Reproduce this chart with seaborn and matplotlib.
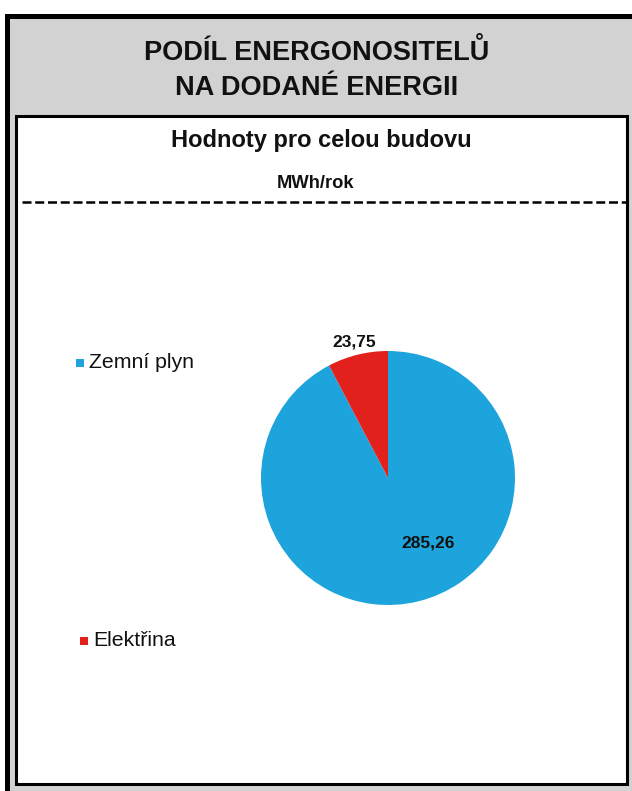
import matplotlib
matplotlib.use("Agg")
import matplotlib.pyplot as plt
from matplotlib.patches import Rectangle
from matplotlib.lines import Line2D
import numpy as np
import seaborn as sns

# data
categories = ["Zemní plyn", "Elektřina"]
values = [285.26, 23.75]
value_labels = ["285,26", "23,75"]
colors = ["#1ea4dc", "#e3211c"]

title_lines = ["PODÍL ENERGONOSITELŮ", "NA DODANÉ ENERGII"]
subtitle = "Hodnoty pro celou budovu"
unit = "MWh/rok"

sns.set_theme(style="white")
plt.rcParams['font.family'] = ['Liberation Sans', 'DejaVu Sans']

W, H = 632, 791
fig = plt.figure(figsize=(W / 100, H / 100), dpi=100)
fig.patch.set_facecolor("white")


def fx(x):
    return x / W


def fy(y):
    return 1 - y / H


def box(x0, y0, x1, y1, z=-2, **kw):
    r = Rectangle((fx(x0), fy(y1)), fx(x1) - fx(x0), fy(y0) - fy(y1),
                  transform=fig.transFigure, zorder=z, **kw)
    fig.add_artist(r)


# outer grey frame and inner white panel
box(7, 16, 640, 800, facecolor="#d2d2d2", edgecolor="black", linewidth=3.6, z=-3)
box(16, 116, 627, 784, facecolor="white", edgecolor="black", linewidth=2.2, z=-2)

# dashed separator
fig.add_artist(Line2D([fx(22), fx(626)], [fy(202), fy(202)], transform=fig.transFigure,
                      color="black", linewidth=1.8, dashes=(3.6, 1.5)))

# titles
fig.text(fx(317), fy(52), title_lines[0], ha="center", va="center",
         fontsize=19.5, fontweight="bold", color="#111111")
fig.text(fx(317), fy(88), title_lines[1], ha="center", va="center",
         fontsize=19.5, fontweight="bold", color="#111111")
fig.text(fx(321), fy(141), subtitle, ha="center", va="center",
         fontsize=17, fontweight="bold", color="#111111")
fig.text(fx(316), fy(184), unit, ha="center", va="center",
         fontsize=13.2, fontweight="bold", color="#111111")

# pie
cx, cy, r = 388, 478, 127
ax = fig.add_axes([fx(cx - r), fy(cy + r), (2 * r) / W, (2 * r) / H])
ax.set_zorder(5)
ax.patch.set_alpha(0)
wedges, texts = ax.pie(values, colors=colors, startangle=90, counterclock=False,
                       labels=value_labels, labeldistance=1.1,
                       wedgeprops=dict(linewidth=0, edgecolor="none"),
                       textprops=dict(fontsize=12.5, fontweight="bold", color="#111111"))
ax.set_aspect("auto")
ax.set_xlim(-1, 1)
ax.set_ylim(-1, 1)
ax.axis("off")

# blue value label sits inside the slice
ang = np.deg2rad(-58)
texts[0].set_position((0.6 * np.cos(ang), 0.6 * np.sin(ang)))
texts[0].set_ha("center")
texts[0].set_va("center")
texts[1].set_ha("center")
texts[1].set_va("center")
texts[1].set_position((-0.27, 1.07))

# legend entries, spread vertically
legend_pos = [(76, 363), (80, 641)]
for (lx, ly), name, c in zip(legend_pos, categories, colors):
    box(lx, ly - 4, lx + 8, ly + 4, facecolor=c, edgecolor="none", z=1)
    fig.text(fx(lx + 13), fy(ly), name, ha="left", va="center",
             fontsize=15.3, color="#111111")

fig.savefig("out.png", dpi=100)
